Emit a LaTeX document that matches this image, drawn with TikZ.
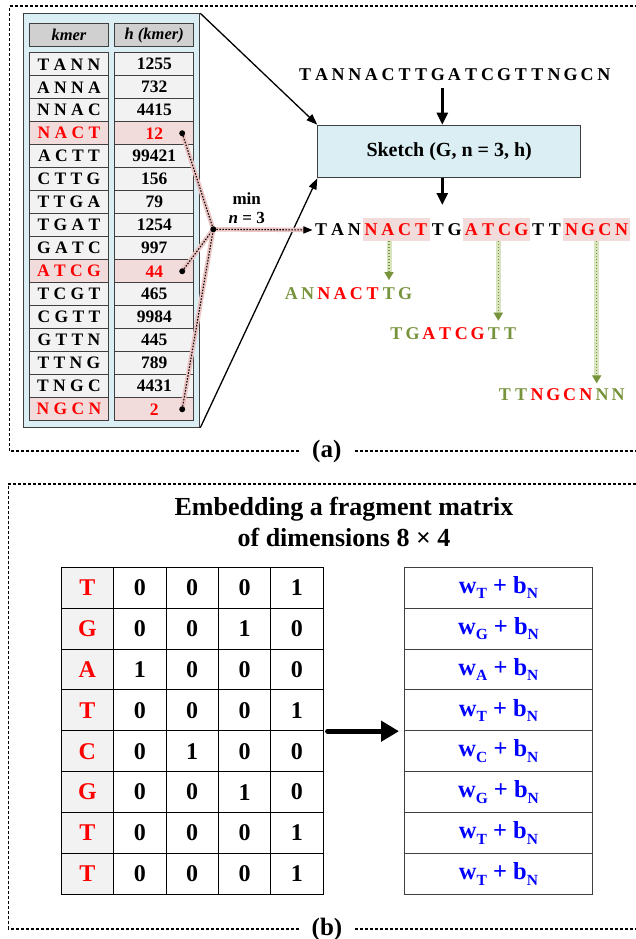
\documentclass[tikz,border=0pt]{standalone}
\usepackage{fontspec}
\setmainfont{Liberation Serif}
\usepackage{tikz}
\usetikzlibrary{arrows.meta}
\definecolor{paleblue}{HTML}{DAEEF3}
\definecolor{edgegrey}{HTML}{3F3F3F}
\definecolor{headgrey}{HTML}{D0D0D0}
\definecolor{cellgrey}{HTML}{F2F2F2}
\definecolor{hlpink}{HTML}{F2DCDB}
\definecolor{glowpink}{HTML}{EBC3C2}
\definecolor{olive}{HTML}{77933C}
\definecolor{glowgreen}{HTML}{D7E4BD}
\definecolor{hired}{HTML}{FF0000}
\definecolor{wblue}{HTML}{0000FF}
\newcommand{\fsz}[1]{\fontsize{#1}{#1}\selectfont}
\newcommand{\lowtxt}[1]{\raisebox{-5.5pt}{\fontsize{15.5}{15.5}\selectfont #1}}

\begin{document}
\begin{tikzpicture}[x=1pt, y=-1pt,
    frame/.style={line width=1.3pt, dash pattern=on 3pt off 2pt},
    tag/.style={font=\fsz{25}\bfseries, inner xsep=13pt, inner ysep=0pt},
    head/.style={draw=edgegrey, fill=headgrey, line width=0.9pt, anchor=north west,
      minimum height=22.7pt, inner sep=0pt, font=\fsz{16.5}\bfseries\itshape},
    cell/.style={draw=edgegrey, line width=0.9pt, anchor=north west,
      minimum height=23pt, inner sep=0pt, font=\fsz{17.5}\bfseries},
    kplain/.style={fill=cellgrey},
    kpick/.style={fill=hlpink, text=hired},
    base/.style={font=\fsz{18}\bfseries, inner sep=0pt, minimum width=16.6pt},
    hl/.style={fill=hlpink, inner sep=0pt, minimum height=23pt},
    gn/.style={text=olive}, rd/.style={text=hired},
    minlink/.style={line width=1.1pt, dash pattern=on 1.5pt off 1.5pt,
      preaction={draw=glowpink, line width=4.5pt, solid}},
    pick/.style={draw=olive, line width=1.4pt, dash pattern=on 1.5pt off 1.5pt,
      -{Triangle[length=8pt,width=9pt]},
      preaction={draw=glowgreen, line width=5pt, solid}},
    feed/.style={line width=1.3pt, -{Triangle[length=11pt,width=8pt]}},
    thick arrow/.style={line width=2.8pt, -{Triangle[length=12pt,width=11pt]}},
    mcell/.style={draw=black, line width=0.9pt, anchor=north west, minimum width=52.4pt,
      minimum height=40.9pt, inner sep=0pt, font=\fsz{24}\bfseries},
    ecell/.style={draw=edgegrey, line width=0.9pt, anchor=north west, minimum width=188pt,
      minimum height=40.9pt, inner sep=0pt, font=\fsz{24.5}\bfseries, text=wblue},
    embed/.style={line width=5pt, line cap=round, -{Triangle[length=18pt,width=20pt]}}]
  \useasboundingbox (0,0) rectangle (636,939);

  % frame (a)
  \coordinate (fa-tl) at (9.3,6);
  \coordinate (fa-tr) at (636,6);
  \coordinate (fa-bl) at (9.3,451);
  \coordinate (fa-br) at (636,451);
  \node[tag] (tagA) at (326.8,451) {(a)};
  \draw[frame] (tagA.west) -- (fa-bl) -- (fa-tl) -- (fa-tr);
  \draw[frame] (tagA.east) -- (fa-br);

  % kmer table
  \node[draw=edgegrey, fill=paleblue, line width=1pt, anchor=north west, inner sep=0pt,
    minimum width=176.6pt, minimum height=413.4pt] (kbox) at (22.7,13.3) {};
  \node[head, minimum width=78.4pt] (hk) at (29.3,23.3) {kmer};
  \node[head, minimum width=79pt] (hh) at (114.3,23.3) {h (kmer)};
  \foreach[count=\i from 0] \km/\hv/\pk in {%
    T A N N/1255/kplain, A N N A/732/kplain, N N A C/4415/kplain, N A C T/12/kpick,
    A C T T/99421/kplain, C T T G/156/kplain, T T G A/79/kplain, T G A T/1254/kplain,
    G A T C/997/kplain, A T C G/44/kpick, T C G T/465/kplain, C G T T/9984/kplain,
    G T T N/445/kplain, T T N G/789/kplain, T N G C/4431/kplain, N G C N/2/kpick} {
    \pgfmathsetmacro\yp{52.3 + \i * 23}
    \node[cell, \pk, minimum width=78.4pt] (k\i) at (29.3, \yp) {\km};
    \node[cell, \pk, minimum width=79pt] (h\i) at (114.3, \yp) {\hv};
  }

  % sketch box and sequences
  \node[draw=edgegrey, fill=paleblue, line width=1pt, anchor=north west, inner sep=0pt,
    minimum width=262.7pt, minimum height=52.6pt, font=\fsz{20}\bfseries]
    (sketch) at (317.3,124.7) {Sketch (G, n = 3, h)};
  \foreach[count=\i from 0] \c in {T,A,N,N,A,C,T,T,G,A,T,C,G,T,T,N,G,C,N}
    \node[base] (t\i) at (305 + 16.6*\i, 75) {\c};
  \node[hl, minimum width=66.8pt] (hA) at (396.2,229.2) {};
  \node[hl, minimum width=66.8pt] (hB) at (496.4,229.2) {};
  \node[hl, minimum width=66.8pt] (hC) at (596.6,229.2) {};
  \foreach[count=\i from 0] \c/\k in {T/black,A/black,N/black,N/rd,A/rd,C/rd,T/rd,T/black,
    G/black,A/rd,T/rd,C/rd,G/rd,T/black,T/black,N/rd,G/rd,C/rd,N/rd}
    \node[base, \k, minimum width=16.7pt] (b\i) at (321 + 16.7*\i, 230) {\c};
  \coordinate (seqin) at (442.3,88);
  \coordinate (seqout) at (442.3,205);
  \draw[thick arrow] (seqin) -- (seqin |- sketch.north);
  \draw[thick arrow] (sketch.south -| seqout) -- (seqout);
  \draw[feed] (kbox.north east) -- (sketch.north west);
  \draw[feed] (kbox.south east) -- (sketch.south west);

  % picked fragments
  \foreach[count=\j from 0] \c/\k in {A/gn,N/gn,N/rd,A/rd,C/rd,T/rd,T/gn,G/gn}
    \node[base, \k] (sa\j) at (291.4 + 16.25*\j, 293.3) {\c};
  \foreach[count=\j from 0] \c/\k in {T/gn,G/gn,A/rd,T/rd,C/rd,G/rd,T/gn,T/gn}
    \node[base, \k] (sb\j) at (396.4 + 16.25*\j, 334) {\c};
  \foreach[count=\j from 0] \c/\k in {T/gn,T/gn,N/rd,G/rd,C/rd,N/rd,N/gn,N/gn}
    \node[base, \k] (sc\j) at (504.8 + 16.2*\j, 395) {\c};
  \coordinate (pa) at (389,280);
  \coordinate (pb) at (498.3,320.7);
  \coordinate (pc) at (596.7,383.3);
  \draw[pick] (hA.south -| pa) -- (pa);
  \draw[pick] (hB.south -| pb) -- (pb);
  \draw[pick] (hC.south -| pc) -- (pc);

  % min over n = 3
  \coordinate (jn) at (213.3,229.3);
  \foreach \i in {3,9,15} {
    \coordinate (dot\i) at ([xshift=-12pt]h\i.east);
    \draw[minlink] (dot\i) -- (jn);
  }
  \draw[minlink, -{Triangle[length=9pt,width=7pt]}] (jn) -- (b0.west);
  \foreach \i in {3,9,15}
    \fill (dot\i) circle (3pt);
  \fill (jn) circle (3pt);
  \node[font=\fsz{17}\bfseries, inner sep=0pt] (minlbl) at (246.7,198.3) {min};
  \node[font=\fsz{17}\bfseries, inner sep=0pt] (nlbl) at (246.7,218.3) {\textit{n} = 3};

  % frame (b)
  \coordinate (fb-tl) at (8.3,484);
  \coordinate (fb-tr) at (636,484);
  \coordinate (fb-bl) at (8.3,929);
  \coordinate (fb-br) at (636,929);
  \node[tag] (tagB) at (327,929) {(b)};
  \draw[frame] (tagB.west) -- (fb-bl) -- (fb-tl) -- (fb-tr);
  \draw[frame] (tagB.east) -- (fb-br);
  \node[font=\fontsize{26}{31.6}\selectfont\bfseries, align=center] (title)
    at (344,522) {Embedding a fragment matrix\\of dimensions 8 × 4};

  % one-hot matrix and embeddings
  \foreach[count=\i from 0] \bs/\va/\vb/\vc/\vd in {T/0/0/0/1, G/0/0/1/0, A/1/0/0/0,
    T/0/0/0/1, C/0/1/0/0, G/0/0/1/0, T/0/0/0/1, T/0/0/0/1} {
    \pgfmathsetmacro\yp{566.7 + \i * 40.9}
    \node[mcell, fill=cellgrey, text=hired] (m\i-0) at (60.7, \yp) {\bs};
    \foreach[count=\j] \v in {\va,\vb,\vc,\vd}
      \node[mcell] (m\i-\j) at (60.7 + \j * 52.4, \yp) {\v};
    \node[ecell] (e\i) at (404, \yp) {w\lowtxt{\bs} + b\lowtxt{N}};
  }
  \draw[embed] ([xshift=4pt]m3-4.south east) -- ([xshift=-5pt]e3.south west);
\end{tikzpicture}
\end{document}
